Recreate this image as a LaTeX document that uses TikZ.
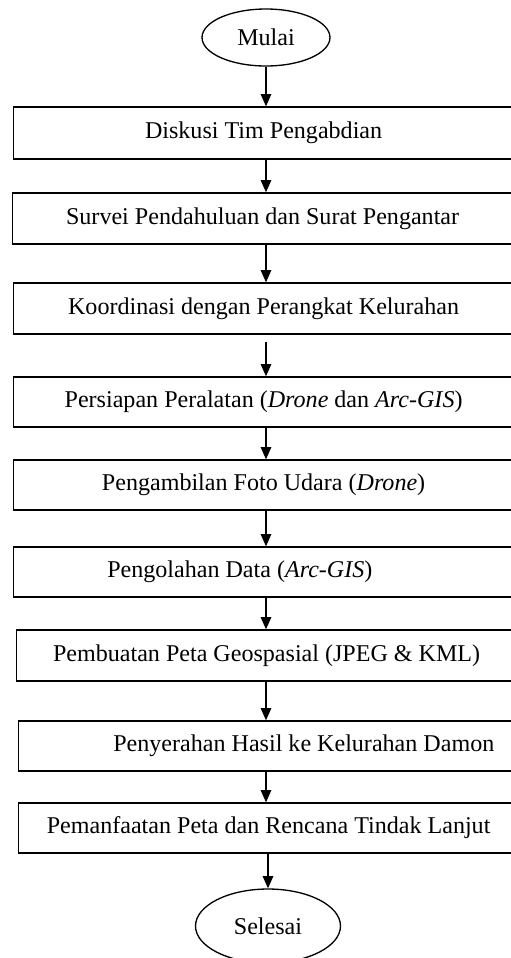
\documentclass[tikz,border=0pt]{standalone}
\usepackage{fontspec}
\setmainfont{Liberation Serif}
\usetikzlibrary{shapes.geometric, arrows.meta}

\tikzset{
    stepbox/.style={draw, line width=0.75pt, minimum width=10cm, minimum height=1cm, inner sep=0pt, anchor=west},
    offtext/.style={text width=10cm, align=flush left},
    terminal/.style={draw, ellipse, line width=0.75pt, inner sep=0pt},
    flow/.style={line width=0.8pt, -{Triangle[length=7pt, width=6pt]}}
}

\begin{document}
\begin{tikzpicture}[x=0.02cm, y=-0.02cm, every node/.style={font=\fontsize{13.7}{16}\selectfont}]
    \useasboundingbox (0,0) rectangle (511,958);
    \clip (0,0) rectangle (511,958);

    % Start
    \node[terminal, minimum width=2.56cm, minimum height=1.14cm] (mulai) at (266, 37.5) {Mulai};

    % Steps
    \node[stepbox, minimum height=1.04cm] (diskusi) at (13, 133) {Diskusi Tim Pengabdian};
    \node[stepbox, minimum height=1.02cm] (survei) at (12, 218.5) {Survei Pendahuluan dan Surat Pengantar};
    \node[stepbox, minimum height=1.02cm] (koordinasi) at (13, 308.5) {Koordinasi dengan Perangkat Kelurahan};
    \node[stepbox] (persiapan) at (13, 402) {Persiapan Peralatan (\textit{Drone} dan \textit{Arc-GIS})};
    \node[stepbox] (foto) at (13, 485) {Pengambilan Foto Udara (\textit{Drone})};
    \node[stepbox, offtext] (olah) at (13, 572) {\hspace*{53.3pt}Pengolahan Data (\textit{Arc-GIS})};
    \node[stepbox, minimum height=1.02cm] (peta) at (16, 655.5) {Pembuatan Peta Geospasial (JPEG \& KML)};
    \node[stepbox, offtext] (serah) at (18, 746) {\hspace*{53.9pt}Penyerahan Hasil ke Kelurahan Damon};
    \node[stepbox] (manfaat) at (18, 828) {Pemanfaatan Peta dan Rencana Tindak Lanjut};

    % End
    \node[terminal, minimum width=2.9cm, minimum height=1.48cm] (selesai) at (268, 926) {Selesai};

    % Arrows
    \draw[flow] (mulai.south) -- (diskusi.north -| mulai.south);
    \draw[flow] (diskusi.south -| mulai) -- (survei.north -| mulai);
    \draw[flow] (survei.south -| mulai) -- (koordinasi.north -| mulai);
    \draw[flow, shorten <=4pt] (koordinasi.south -| mulai) -- (persiapan.north -| mulai);
    \draw[flow] (persiapan.south -| mulai) -- (foto.north -| mulai);
    \draw[flow] (foto.south -| mulai) -- (olah.north -| mulai);
    \draw[flow] (olah.south -| mulai) -- (peta.north -| mulai);
    \draw[flow] (peta.south -| mulai) -- (serah.north -| mulai);
    \draw[flow] (serah.south -| mulai) -- (manfaat.north -| mulai);
    \draw[flow] (manfaat.south -| selesai) -- (selesai.north);
\end{tikzpicture}
\end{document}
